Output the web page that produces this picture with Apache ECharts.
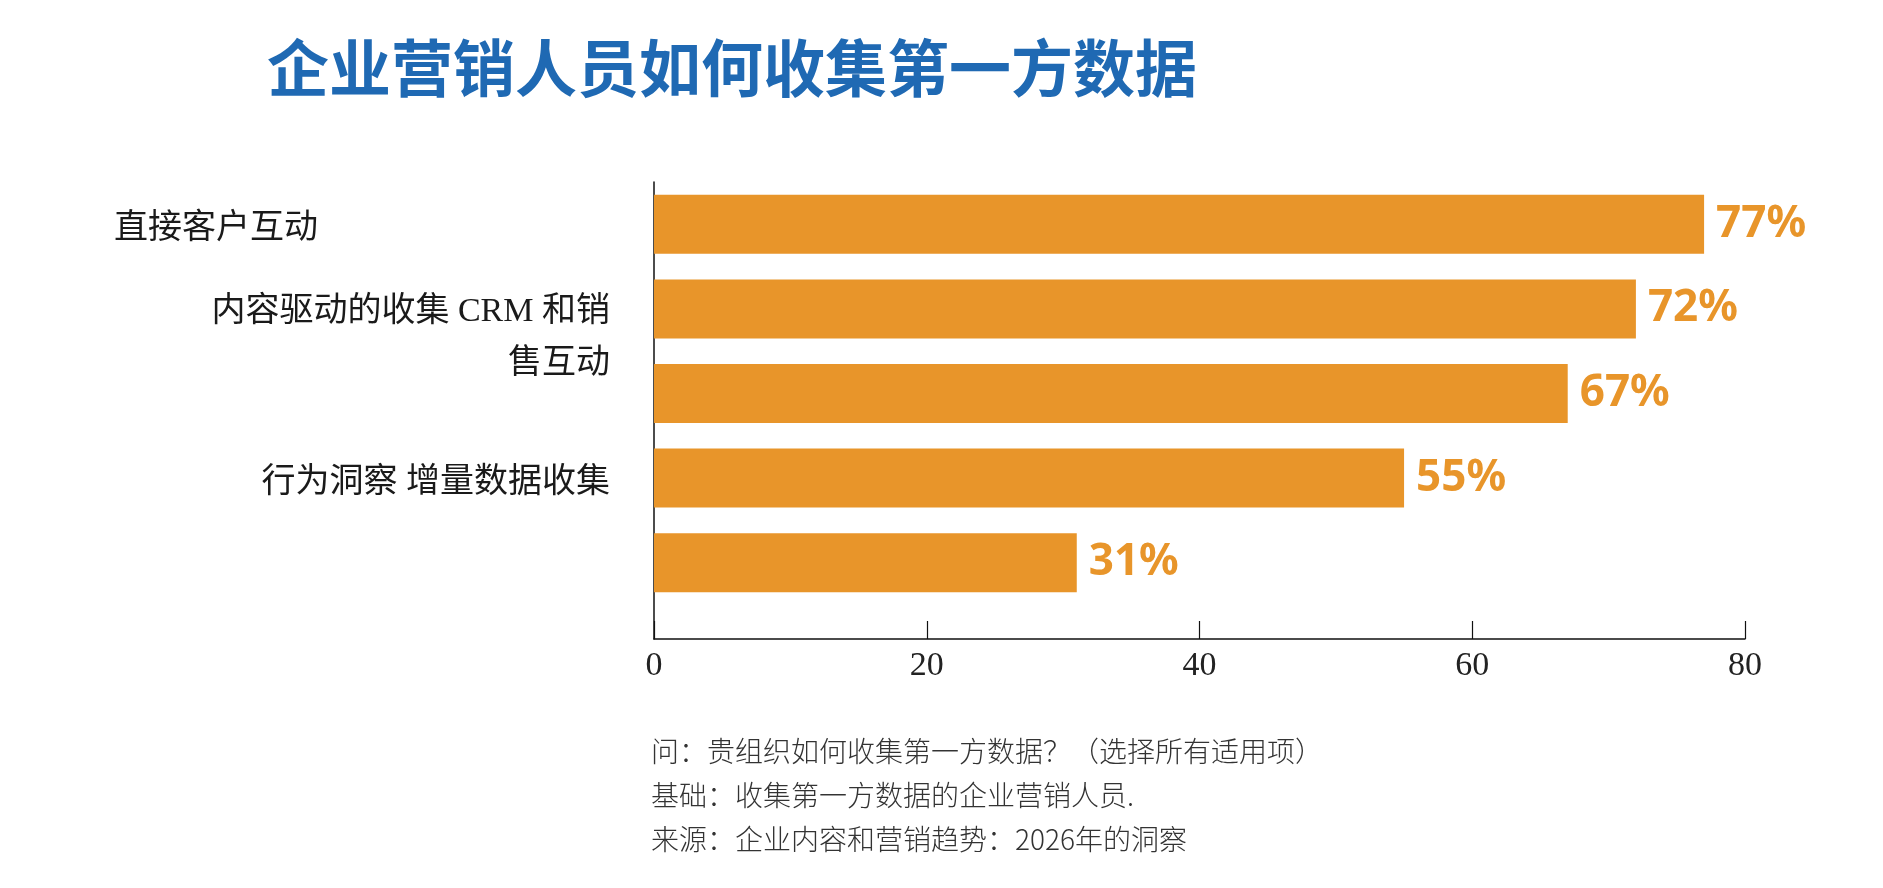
<!DOCTYPE html>
<html>
<head>
<meta charset="utf-8">
<script src="https://cdn.jsdelivr.net/npm/echarts@6/dist/echarts.min.js"></script>
<style>
  html, body { margin: 0; padding: 0; background: #fff; }
  #main { width: 1883px; height: 888px; }
</style>
</head>
<body>
<div id="main"></div>
<script>
var titulo = '企业营销人员如何收集第一方数据';
var categorias = ['直接客户互动', '内容驱动的收集 CRM 和销\n售互动', '', '行为洞察 增量数据收集', ''];
var valores = [77, 72, 67, 55, 31];
var eixoMin = 0;
var eixoMax = 80;
var eixoPasso = 20;
var notas = [
  '问：贵组织如何收集第一方数据？（选择所有适用项）',
  '基础：收集第一方数据的企业营销人员.',
  '来源：企业内容和营销趋势：2026年的洞察'
];

var laranja = '#E8952A';
var fonteRotulo = "'Liberation Serif', 'Noto Sans CJK SC'";

var myChart = echarts.init(document.getElementById('main'));

var option = {
  backgroundColor: '#fff',
  animation: false,
  title: [
    {
      text: titulo,
      left: 262,
      top: 32,
      textStyle: {
        fontFamily: 'Noto Sans CJK SC',
        fontSize: 62,
        fontWeight: 'bold',
        color: '#1F69B3'
      }
    },
    {
      text: notas.join('\n'),
      left: 646,
      top: 724,
      textStyle: {
        fontFamily: 'Noto Sans CJK SC',
        fontSize: 28,
        fontWeight: 300,
        lineHeight: 44,
        color: '#333'
      }
    }
  ],
  grid: [
    // bars
    { left: 654, right: 138, top: 182, height: 423 },
    // axis frame
    { left: 654, right: 138, top: 182, bottom: 249 }
  ],
  xAxis: [
    { gridIndex: 0, type: 'value', min: eixoMin, max: eixoMax, show: false },
    {
      gridIndex: 1,
      type: 'value',
      min: eixoMin,
      max: eixoMax,
      interval: eixoPasso,
      axisLine: { show: true, onZero: false, lineStyle: { color: '#111', width: 1.5 } },
      axisTick: { show: true, inside: true, length: 18, lineStyle: { color: '#111', width: 1.2 } },
      axisLabel: { fontFamily: 'Liberation Serif', fontSize: 34, color: '#222', margin: 10 },
      splitLine: { show: false }
    }
  ],
  yAxis: [
    {
      gridIndex: 0,
      type: 'category',
      inverse: true,
      data: categorias,
      axisLine: { show: false },
      axisTick: { show: false },
      axisLabel: {
        interval: 0,
        hideOverlap: false,
        margin: 44,
        fontFamily: fonteRotulo,
        fontSize: 34,
        lineHeight: 52,
        color: '#1a1a1a',
        formatter: function (v, i) {
          if (i === 0) return '{a|' + v + '}';
          if (i === 1) return '{s| }\n' + v;
          if (i === 3) return '{c|' + v + '}';
          return v;
        },
        rich: {
          a: { width: 496, align: 'left', padding: [10, 0, 0, 0], fontFamily: fonteRotulo, fontSize: 34, color: '#1a1a1a' },
          c: { padding: [10, 0, 0, 0], fontFamily: fonteRotulo, fontSize: 34, color: '#1a1a1a' },
          s: { lineHeight: 58, fontSize: 10 }
        }
      }
    },
    {
      gridIndex: 1,
      type: 'value',
      axisLine: { show: true, onZero: false, lineStyle: { color: '#111', width: 1.5 } },
      axisTick: { show: false },
      axisLabel: { show: false },
      splitLine: { show: false }
    }
  ],
  series: [
    {
      type: 'bar',
      xAxisIndex: 0,
      yAxisIndex: 0,
      data: valores,
      barWidth: 59,
      itemStyle: { color: laranja },
      label: {
        show: true,
        position: 'right',
        distance: 12,
        formatter: '{c}%',
        fontFamily: 'Noto Sans',
        fontSize: 44,
        fontWeight: 'bold',
        color: laranja
      }
    }
  ]
};

myChart.setOption(option);
</script>
</body>
</html>
